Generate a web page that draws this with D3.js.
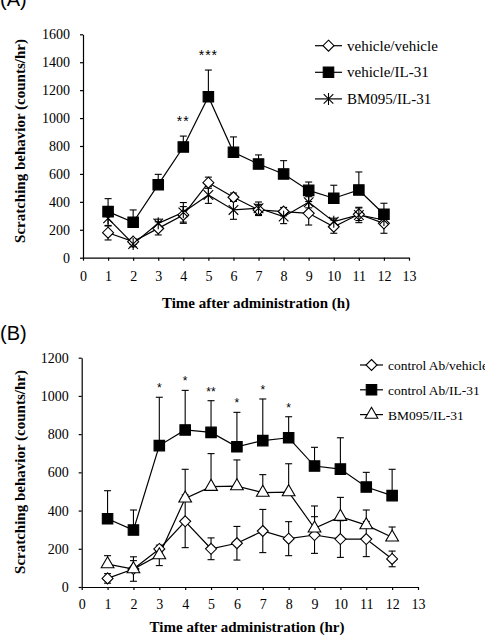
<!DOCTYPE html>
<html>
<head>
<meta charset="utf-8">
<script src="https://cdn.jsdelivr.net/npm/d3@7"></script>
<style>
  body { margin: 0; background: #fff; }
  svg { display: block; }
</style>
</head>
<body>
<div class="chart"></div>
<script>
// Data
const hours = [1, 2, 3, 4, 5, 6, 7, 8, 9, 10, 11, 12];

// Panel A
const vehVeh = [179, 115, 210, 306, 537, 433, 342, 330, 318, 222, 311, 246];
const vehVehErr = [52, 20, 47, 60, 40, 30, 40, 30, 84, 47, 45, 71];
const vehIL31 = [330, 254, 523, 793, 1153, 755, 671, 600, 482, 426, 485, 311];
const vehIL31Err = [93, 88, 74, 78, 191, 110, 65, 95, 60, 93, 129, 79];
const bmIL31A = [282, 98, 246, 325, 449, 342, 354, 294, 397, 258, 306, 270];
const bmIL31AErr = [55, 20, 30, 70, 60, 67, 45, 50, 40, 25, 55, 40];
const sigA = [{ x: 4, label: "**" }, { x: 5, label: "***" }];

// Panel B
const ctrlVeh = [45, 94, 199, 344, 200, 229, 293, 253, 272, 251, 251, 147];
const ctrlVehErr = [25, 64, 20, 138, 57, 88, 113, 89, 96, 96, 92, 41];
const ctrlIL31 = [357, 298, 740, 822, 809, 734, 766, 781, 633, 617, 523, 478];
const ctrlIL31Err = [147, 105, 253, 207, 166, 180, 218, 110, 98, 164, 77, 138];
const bmIL31B = [120, 94, 167, 464, 525, 528, 494, 497, 307, 368, 324, 260];
const bmIL31BErrUp = [44, 44, 0, 152, 173, 137, 94, 148, 117, 101, 79, 54];
const bmIL31BErrDown = [0, 0, 55, 0, 0, 0, 0, 0, 0, 0, 0, 0];
const sigB = [
  { x: 3, label: "*" }, { x: 4, label: "*" }, { x: 5, label: "**" },
  { x: 6, label: "*" }, { x: 7, label: "*" }, { x: 8, label: "*" }
];

const xTicks = d3.range(0, 14);
const yTicksA = d3.range(0, 1601, 200);
const yTicksB = d3.range(0, 1201, 200);

const serif = "'Liberation Serif', 'Times New Roman', serif";
const sans = "'Liberation Sans', Arial, sans-serif";

const width = 485, height = 642;
const svg = d3.select(".chart")
  .append("svg")
  .attr("width", width)
  .attr("height", height);

// marker shapes
const diamondSym = {
  draw(ctx, size) {
    const r = Math.sqrt(size) / 2;
    ctx.moveTo(0, -r); ctx.lineTo(r, 0); ctx.lineTo(0, r); ctx.lineTo(-r, 0); ctx.closePath();
  }
};
const starSym = {
  draw(ctx, size) {
    const r = Math.sqrt(size) / 2;
    const d = r * 0.8;
    ctx.moveTo(0, -r); ctx.lineTo(0, r);
    ctx.moveTo(-d, -d); ctx.lineTo(d, d);
    ctx.moveTo(-d, d); ctx.lineTo(d, -d);
  }
};
const markers = {
  diamond: { type: diamondSym, size: 121, fill: "white" },
  square: { type: d3.symbolSquare, size: 110, fill: "black" },
  star: { type: starSym, size: 144, fill: "none" },
  triangle: { type: d3.symbolTriangle, size: 70, fill: "white" }
};

function drawMarker(g, kind, x, y) {
  const m = markers[kind];
  g.append("path")
    .attr("d", d3.symbol().type(m.type).size(m.size)())
    .attr("transform", `translate(${x},${y})`)
    .attr("fill", m.fill)
    .attr("stroke", "black")
    .attr("stroke-width", 1.1);
}

function drawPanel(p) {
  const x = d3.scaleLinear().domain([0, 13]).range([p.left, p.right]);
  const y = d3.scaleLinear().domain([0, p.yMax]).range([p.bottom, p.top]);
  const g = svg.append("g");

  // axes
  const yAxis = g.append("g")
    .attr("transform", `translate(${p.left},0)`)
    .call(d3.axisLeft(y).tickValues(p.yTicks).tickFormat(d3.format("d"))
      .tickSize(3).tickSizeOuter(0).tickPadding(10));
  const xAxis = g.append("g")
    .attr("transform", `translate(0,${p.bottom})`)
    .call(d3.axisBottom(x).tickValues(xTicks).tickFormat(d3.format("d"))
      .tickSize(3).tickSizeOuter(0).tickPadding(p.xPad));
  [xAxis, yAxis].forEach(a => {
    a.attr("font-family", serif);
    a.selectAll("text").style("font-family", serif).style("font-size", "14px").attr("fill", "black");
    a.selectAll("line, path").attr("stroke", "black").attr("stroke-width", 1.2);
  });

  // axis titles
  g.append("text")
    .attr("transform", `translate(${p.yTitleX},${p.yTitleY}) rotate(-90)`)
    .attr("text-anchor", "middle")
    .style("font-family", serif).style("font-size", "15px").style("font-weight", "bold")
    .text("Scratching behavior (counts/hr)");
  g.append("text")
    .attr("x", p.xTitleX).attr("y", p.xTitleY)
    .attr("text-anchor", "middle")
    .style("font-family", serif).style("font-size", "15px").style("font-weight", "bold")
    .text(p.xTitle);

  // panel label
  g.append("text")
    .attr("x", 0).attr("y", p.labelY)
    .style("font-family", sans).style("font-size", "20px")
    .text(p.label);

  const line = d3.line().x((d, i) => x(hours[i])).y(d => y(d));

  p.series.forEach(s => {
    // error bars
    s.values.forEach((v, i) => {
      const up = s.errUp ? s.errUp[i] : 0;
      const down = s.errDown ? s.errDown[i] : 0;
      const cx = x(hours[i]);
      [[up, 1], [down, -1]].forEach(([e, dir]) => {
        if (!e) return;
        const end = y(v + dir * e);
        g.append("line").attr("x1", cx).attr("x2", cx).attr("y1", y(v)).attr("y2", end)
          .attr("stroke", "black").attr("stroke-width", 1.1);
        g.append("line").attr("x1", cx - 3.5).attr("x2", cx + 3.5).attr("y1", end).attr("y2", end)
          .attr("stroke", "black").attr("stroke-width", 1.1);
      });
    });
  });

  p.series.forEach(s => {
    g.append("path")
      .datum(s.values)
      .attr("d", line)
      .attr("fill", "none")
      .attr("stroke", "black")
      .attr("stroke-width", 1.2);
  });

  p.series.forEach(s => {
    s.values.forEach((v, i) => drawMarker(g, s.marker, x(hours[i]), y(v)));
  });

  // significance marks above the upper error caps
  const top = p.series.find(s => s.sigSeries);
  p.sig.forEach(d => {
    const i = hours.indexOf(d.x);
    g.append("text")
      .attr("x", x(d.x))
      .attr("y", y(top.values[i] + top.errUp[i]) - p.sigGap)
      .attr("text-anchor", "middle")
      .attr("fill", "black")
      .style("font-family", sans)
      .style("font-size", p.sigSize)
      .style("letter-spacing", p.sigSpacing)
      .text(d.label);
  });

  // legend
  const legend = g.append("g").attr("transform", `translate(${p.legendX},${p.legendY})`);
  p.series.forEach((s, i) => {
    const row = legend.append("g").attr("transform", `translate(0,${i * p.legendStep})`);
    row.append("line").attr("x1", 0).attr("x2", p.legendLine).attr("y1", 0).attr("y2", 0)
      .attr("stroke", "black").attr("stroke-width", 1.2);
    drawMarker(row, s.marker, p.legendLine / 2, 0);
    row.append("text")
      .attr("x", p.legendLine + 5).attr("y", 5)
      .style("font-family", serif).style("font-size", p.legendFont)
      .text(s.name);
  });
}

drawPanel({
  left: 83, right: 409, top: 34.3, bottom: 257.7, yMax: 1600, yTicks: yTicksA, xPad: 10,
  yTitleX: 25, yTitleY: 141, xTitleX: 256, xTitleY: 308, xTitle: "Time after administration (h)",
  label: "(A)", labelY: 6,
  series: [
    { name: "vehicle/vehicle", marker: "diamond", values: vehVeh, errUp: vehVehErr, errDown: vehVehErr },
    { name: "vehicle/IL-31", marker: "square", values: vehIL31, errUp: vehIL31Err, sigSeries: true },
    { name: "BM095/IL-31", marker: "star", values: bmIL31A, errUp: bmIL31AErr, errDown: bmIL31AErr }
  ],
  sig: sigA, sigGap: 10, sigSize: "14px", sigSpacing: "1px",
  legendX: 315, legendY: 45.7, legendStep: 26.6, legendLine: 27, legendFont: "15px"
});

drawPanel({
  left: 81.7, right: 418, top: 357.7, bottom: 587, yMax: 1200, yTicks: yTicksB, xPad: 9,
  yTitleX: 25, yTitleY: 472, xTitleX: 247, xTitleY: 632, xTitle: "Time after administration (hr)",
  label: "(B)", labelY: 340,
  series: [
    { name: "control Ab/vehicle", marker: "diamond", values: ctrlVeh, errUp: ctrlVehErr, errDown: ctrlVehErr },
    { name: "control Ab/IL-31", marker: "square", values: ctrlIL31, errUp: ctrlIL31Err, sigSeries: true },
    { name: "BM095/IL-31", marker: "triangle", values: bmIL31B, errUp: bmIL31BErrUp, errDown: bmIL31BErrDown }
  ],
  sig: sigB, sigGap: 5, sigSize: "12px", sigSpacing: "0px",
  legendX: 360, legendY: 365, legendStep: 24.8, legendLine: 23, legendFont: "13.5px"
});
</script>
</body>
</html>
